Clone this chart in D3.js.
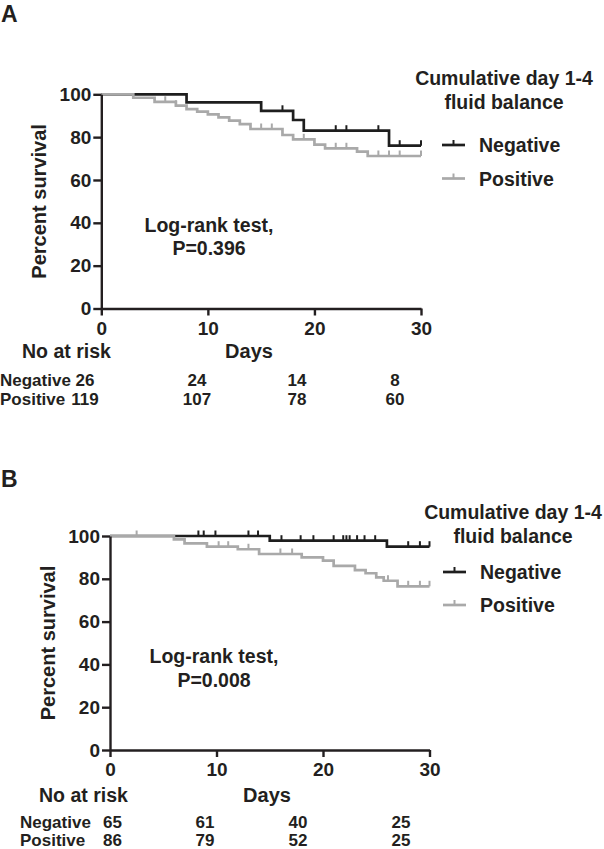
<!DOCTYPE html>
<html><head><meta charset="utf-8">
<script src="https://cdn.jsdelivr.net/npm/d3@7"></script>
<style>
body{margin:0;background:#fff;}
svg{display:block;}
text{font-family:"Liberation Sans",Arial,Helvetica,sans-serif;font-weight:bold;fill:#231f20;}
</style>
</head><body><svg id="chart" width="604" height="849"></svg>
<script>
// ---------- data ----------
const xTicks = [0, 10, 20, 30];
const yTicks = [0, 20, 40, 60, 80, 100];
const groups = ["Negative", "Positive"];
const legendTitle = ["Cumulative day 1-4", "fluid balance"];
const yTitle = "Percent survival";
const xTitle = "Days";
const riskTitle = "No at risk";

// Panel A
const aNegTime = [0, 8, 15, 18, 19, 27];
const aNegSurv = [100, 96.2, 92.3, 88.0, 83.0, 76.0];
const aNegCensor = [17, 22, 23, 26, 28, 30];
const aPosTime = [0, 3, 5, 7, 8, 9, 10, 11, 12, 13, 14, 17, 18, 20, 21, 24, 25];
const aPosSurv = [100, 98.4, 96.5, 94.7, 93.1, 91.9, 90.6, 89.2, 87.7, 86.1, 83.8, 81.0, 79.0, 76.5, 74.8, 73.2, 71.2];
const aPosCensor = [6, 7, 15, 16, 19, 22, 23, 26, 27, 28, 30];
const aRiskNeg = [26, 24, 14, 8];
const aRiskPos = [119, 107, 78, 60];
const aTest = ["Log-rank test,", "P=0.396"];

// Panel B
const bNegTime = [0, 15, 26];
const bNegSurv = [100, 97.8, 95.0];
const bNegCensor = [8.3, 8.8, 9.9, 13, 13.9, 16.1, 17.9, 19.1, 21, 21.9, 22.2, 22.5, 23.2, 23.9, 24.9, 28, 29.1, 30];
const bPosTime = [0, 6, 7, 9.1, 12, 14, 18, 20, 21, 23, 24, 25, 25.7, 27];
const bPosSurv = [100, 98.4, 96.6, 95.0, 93.8, 91.6, 90.0, 88.5, 86.0, 84.1, 82.6, 80.7, 79.1, 76.5];
const bPosCensor = [2.5, 10.2, 11.1, 13, 16, 17.1, 26.1, 28, 29.1, 30];
const bRiskNeg = [65, 61, 40, 25];
const bRiskPos = [86, 79, 52, 25];
const bTest = ["Log-rank test,", "P=0.008"];

// ---------- drawing ----------
const svg = d3.select("#chart");
const colors = {Negative: "#1e1e1e", Positive: "#a9a9a9"};

function drawPanel(cfg, series, risk, test) {
  const g = svg.append("g");
  const x = d3.scaleLinear().domain([0, 30]).range([cfg.x0, cfg.x1]);
  const y = d3.scaleLinear().domain([0, 100]).range([cfg.yBot, cfg.yTop]);

  // panel letter
  g.append("text").attr("x", cfg.letterX).attr("y", cfg.letterY)
    .style("font-size", "23px").text(cfg.letter);

  // curves (negative first, positive on top)
  series.forEach(s => {
    const pts = s.time.map((t, i) => [t, s.surv[i]]);
    pts.push([30, s.surv[s.surv.length - 1]]);
    g.append("path")
      .attr("d", d3.line().x(d => x(d[0])).y(d => y(d[1])).curve(d3.curveStepAfter)(pts))
      .attr("fill", "none").attr("stroke", colors[s.name]).attr("stroke-width", 2.7);
    const valAt = t => { let v = s.surv[0]; s.time.forEach((tt, i) => { if (tt <= t) v = s.surv[i]; }); return v; };
    g.selectAll(null).data(s.censor).enter().append("line")
      .attr("x1", d => x(d)).attr("x2", d => x(d))
      .attr("y1", d => y(valAt(d))).attr("y2", d => y(valAt(d)) - 5.5)
      .attr("stroke", colors[s.name]).attr("stroke-width", 2);
  });

  // axes
  const ya = g.append("g").attr("transform", `translate(${cfg.x0},0)`)
    .call(d3.axisLeft(y).tickValues(yTicks).tickSize(8).tickSizeOuter(0).tickPadding(2));
  const xa = g.append("g").attr("transform", `translate(0,${cfg.yBot})`)
    .call(d3.axisBottom(x).tickValues(xTicks).tickSize(7).tickSizeOuter(0).tickPadding(6));
  [ya, xa].forEach(a => {
    a.select(".domain").attr("stroke", "#231f20").attr("stroke-width", 2.4);
    a.selectAll(".tick line").attr("stroke", "#231f20").attr("stroke-width", 2.4);
    a.selectAll(".tick text").style("font-size", "19px").attr("fill", "#231f20")
      .style("font-family", "'Liberation Sans',Arial,sans-serif").style("font-weight", "bold");
  });

  // y title
  g.append("text").attr("transform", `translate(${cfg.yTitleX},${(cfg.yTop + cfg.yBot) / 2}) rotate(-90)`)
    .attr("text-anchor", "middle").style("font-size", "20px").text(yTitle);

  // x title and risk header
  g.append("text").attr("x", cfg.daysX).attr("y", cfg.headY).attr("text-anchor", "middle")
    .style("font-size", "20px").text(xTitle);
  g.append("text").attr("x", cfg.riskTitleX).attr("y", cfg.headY)
    .style("font-size", "19.5px").text(riskTitle);

  // risk rows
  [risk.neg, risk.pos].forEach((row, r) => {
    const yy = cfg.rowY[r];
    g.append("text").attr("x", cfg.rowLabelX).attr("y", yy).style("font-size", "17px").text(groups[r]);
    g.selectAll(null).data(row).enter().append("text")
      .attr("x", (d, i) => cfg.colX[i])
      .attr("y", yy).attr("text-anchor", "middle").style("font-size", "17px").text(d => d);
  });

  // log-rank text
  test.forEach((t, i) => {
    g.append("text").attr("x", cfg.testX).attr("y", cfg.testY[i]).attr("text-anchor", "middle")
      .style("font-size", "19.5px").text(t);
  });

  // legend
  legendTitle.forEach((t, i) => {
    g.append("text").attr("x", cfg.legTitleX).attr("y", cfg.legTitleY[i]).attr("text-anchor", "middle")
      .style("font-size", "19.5px").text(t);
  });
  groups.forEach((name, i) => {
    const ly = cfg.legY[i];
    g.append("line").attr("x1", cfg.legSymX).attr("x2", cfg.legSymX + 23).attr("y1", ly).attr("y2", ly)
      .attr("stroke", colors[name]).attr("stroke-width", 2.7);
    g.append("line").attr("x1", cfg.legSymX + 11.5).attr("x2", cfg.legSymX + 11.5).attr("y1", ly).attr("y2", ly - 5)
      .attr("stroke", colors[name]).attr("stroke-width", 2);
    g.append("text").attr("x", cfg.legTextX).attr("y", ly + 7).style("font-size", "19.5px").text(name);
  });
}

drawPanel({
  letter: "A", letterX: 1, letterY: 22,
  x0: 101.3, x1: 421, yTop: 94.3, yBot: 308.5,
  yTitleX: 46, daysX: 249, riskTitleX: 22, headY: 358,
  rowLabelX: 0, rowY: [386, 405], colX: [85, 197, 297, 395],
  testX: 209, testY: [231.5, 255],
  legTitleX: 504, legTitleY: [85, 108.5], legSymX: 442, legTextX: 479, legY: [145, 178.5]
}, [
  {name: "Negative", time: aNegTime, surv: aNegSurv, censor: aNegCensor},
  {name: "Positive", time: aPosTime, surv: aPosSurv, censor: aPosCensor}
], {neg: aRiskNeg, pos: aRiskPos}, aTest);

drawPanel({
  letter: "B", letterX: 1, letterY: 486.5,
  x0: 110, x1: 429.5, yTop: 536, yBot: 750,
  yTitleX: 55, daysX: 267, riskTitleX: 39, headY: 802,
  rowLabelX: 20, rowY: [828, 845.5], colX: [112.5, 205, 298, 401],
  testX: 214, testY: [663.3, 687.3],
  legTitleX: 513, legTitleY: [519.3, 543.3], legSymX: 443, legTextX: 480, legY: [572, 605]
}, [
  {name: "Negative", time: bNegTime, surv: bNegSurv, censor: bNegCensor},
  {name: "Positive", time: bPosTime, surv: bPosSurv, censor: bPosCensor}
], {neg: bRiskNeg, pos: bRiskPos}, bTest);
</script>
</body></html>
